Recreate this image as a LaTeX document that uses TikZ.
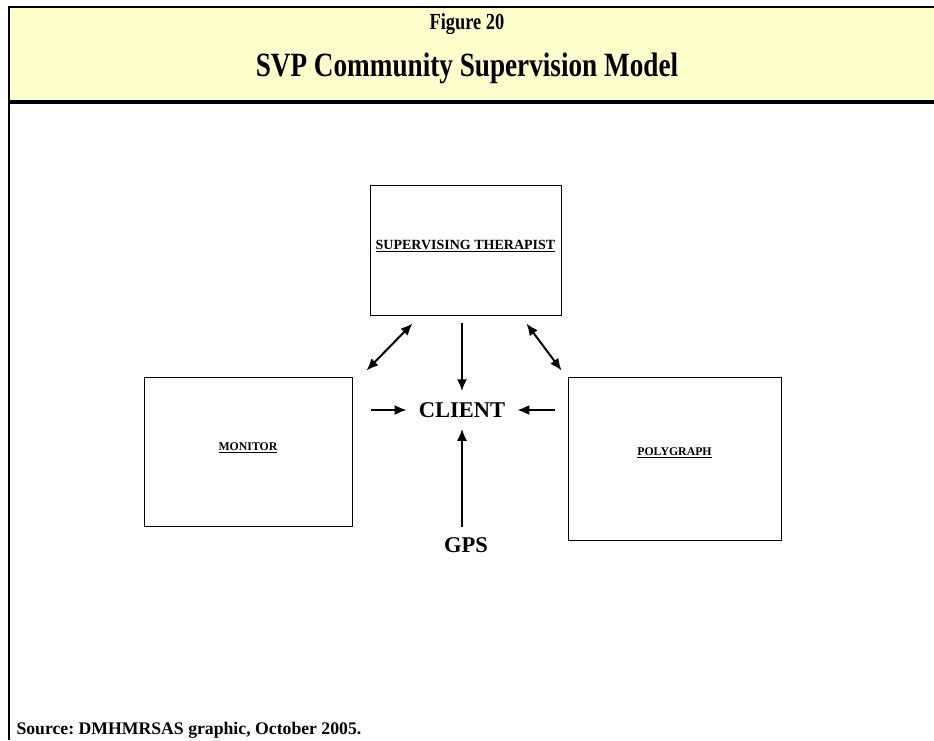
\documentclass[tikz,border=0pt]{standalone}
\usepackage{fontspec}
\setmainfont{Liberation Serif}
\newfontfamily\narrowfont[FakeStretch=0.8]{Liberation Serif}
\usetikzlibrary{arrows.meta, calc}
\definecolor{headyellow}{RGB}{255,255,204}
\frenchspacing

\begin{document}
\begin{tikzpicture}
  [x=1pt, y=-1pt, >={Latex[length=12pt, width=10pt]},
   box/.style={draw, line width=0.9pt, inner sep=0pt,
     font=\fontsize{11.8}{14}\selectfont\bfseries},
   big/.style={inner xsep=12pt, inner ysep=11pt,
     font=\fontsize{22.5}{27}\selectfont\bfseries},
   link/.style={line width=2pt}]
  % page and header band
  \fill [white] (0,0) rectangle (934,740);
  \useasboundingbox (0,0) rectangle (934,740);
  \fill [headyellow] (9,7) rectangle (934,102);
  \draw [line width=2pt] (9,7) -- (934,7);
  \draw [line width=2pt] (9,6) -- (9,740);
  \draw [line width=4pt] (8,102) -- (934,102);
  \node (fig) at (467,24) [font=\narrowfont\fontsize{23}{27}\selectfont\bfseries] {Figure 20};
  \node (title) at (467,68) [font=\narrowfont\fontsize{34}{40}\selectfont\bfseries] {SVP Community Supervision Model};

  % boxes
  \node (ther) at (465.5,250) [box, minimum width=191pt, minimum height=130pt,
    font=\fontsize{14}{16}\selectfont\bfseries] {\raisebox{10pt}{\underline{SUPERVISING THERAPIST}}};
  \node (mon) at (248,451.5) [box, minimum width=208pt, minimum height=149pt]
    {\raisebox{10pt}{\underline{MONITOR}}};
  \node (poly) at (674.5,458.5) [box, minimum width=213pt, minimum height=163pt]
    {\raisebox{13pt}{\underline{POLYGRAPH}}};
  \node (client) at (462,410) [big] {CLIENT};
  \node (gps) at (466,545.5) [big] {GPS};

  % arrows
  \draw [link, <->] ($(ther.south west)+(43,8)$) -- ($(mon.north east)+(14,-6)$);
  \draw [link, <->] ($(ther.south east)+(-35,8)$) -- ($(poly.north west)+(-6,-6)$);
  \draw [link, <-] (client.north) -- ++(0,-68);
  \draw [link, <-] (client.west) -- ++(-36,0);
  \draw [link, <-] (client.east) -- ++(38,0);
  \draw [link, ->] (gps.north -| client.south) -- (client.south);

  \node (src) at (13,734) [anchor=base west, font=\fontsize{17.7}{20}\selectfont\bfseries]
    {Source: DMHMRSAS graphic, October 2005.};
\end{tikzpicture}
\end{document}
